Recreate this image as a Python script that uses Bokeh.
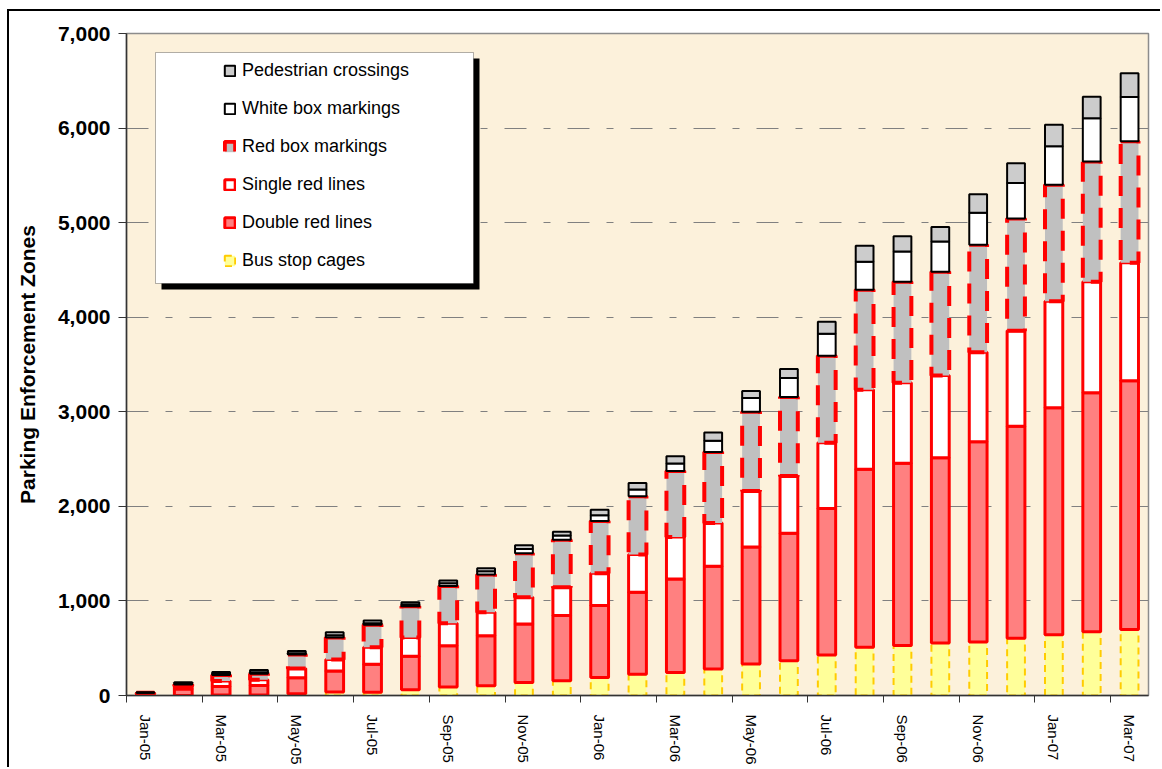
from bokeh.plotting import figure
from bokeh.models import (ColumnDataSource, Range1d, FixedTicker, NumeralTickFormatter,
                          Legend, LegendItem, BoxAnnotation)
from bokeh.transform import stack
from bokeh.embed import file_html
from bokeh.resources import INLINE

months = ["Jan-05", "Feb-05", "Mar-05", "Apr-05", "May-05", "Jun-05", "Jul-05", "Aug-05",
          "Sep-05", "Oct-05", "Nov-05", "Dec-05", "Jan-06", "Feb-06", "Mar-06", "Apr-06",
          "May-06", "Jun-06", "Jul-06", "Aug-06", "Sep-06", "Oct-06", "Nov-06", "Dec-06",
          "Jan-07", "Feb-07", "Mar-07"]

bus_stop_cages = [0, 0, 5, 5, 18, 36, 35, 60, 89, 102, 138, 155, 191, 226, 244, 279,
                  332, 367, 427, 510, 529, 556, 567, 605, 643, 673, 699]
double_red_lines = [25, 70, 90, 102, 171, 224, 296, 356, 438, 530, 618, 690, 760, 866,
                    989, 1088, 1237, 1348, 1550, 1883, 1928, 1958, 2117, 2242, 2400, 2529, 2628]
single_red_lines = [5, 30, 58, 60, 96, 121, 178, 196, 238, 248, 283, 300, 342, 399, 442,
                    456, 594, 605, 696, 840, 851, 870, 945, 1009, 1127, 1172, 1248]
red_box_markings = [0, 15, 64, 64, 149, 231, 238, 331, 392, 399, 466, 502, 552, 615, 700,
                    753, 837, 837, 919, 1058, 1066, 1096, 1137, 1189, 1232, 1273, 1285]
white_box_markings = [0, 10, 14, 15, 14, 25, 18, 18, 31, 35, 43, 46, 60, 71, 77, 117,
                      146, 200, 234, 295, 321, 320, 339, 375, 406, 458, 469]
pedestrian_crossings = [5, 15, 18, 24, 22, 32, 29, 25, 27, 31, 42, 38, 60, 70, 78, 88,
                        74, 95, 125, 169, 160, 155, 196, 209, 227, 227, 251]

y_ticks = [0, 1000, 2000, 3000, 4000, 5000, 6000, 7000]

n = len(months)
xs = [i + 0.5 for i in range(n)]

src = ColumnDataSource(dict(
    x=xs,
    bus=bus_stop_cages,
    dbl=double_red_lines,
    sgl=single_red_lines,
    rbox=red_box_markings,
    wbox=white_box_markings,
    ped=pedestrian_crossings,
))

FONT = "Liberation Sans"

# canvas starts at (9, 11) inside the page; outer chart frame drawn as CSS border
p = figure(width=1153, height=758, output_backend="svg", toolbar_location=None,
           x_range=Range1d(0, n), y_range=Range1d(0, 7000),
           min_border_left=117, min_border_right=14, min_border_top=22, min_border_bottom=74)
p.styles = {"margin-left": "7px", "margin-top": "9px",
            "border-left": "2px solid black", "border-top": "2px solid black"}
p.background_fill_color = "#FCF1DB"
p.border_fill_color = "white"
p.outline_line_color = "#8C8C8C"
p.outline_line_width = 1.5

W = 0.47
order = ["bus", "dbl", "sgl", "rbox", "wbox", "ped"]
styles = {
    "bus": dict(fill_color="#FFFF99", line_color="#FFCC00", line_width=2, line_dash="7 5"),
    "dbl": dict(fill_color="#FF8080", line_color="#FF0000", line_width=3),
    "sgl": dict(fill_color="white", line_color="#FF0000", line_width=3),
    "rbox": dict(fill_color="#C0C0C0", line_color="#FF0000", line_width=4, line_dash="20 12"),
    "wbox": dict(fill_color="white", line_color="black", line_width=2),
    "ped": dict(fill_color="#CCCCCC", line_color="black", line_width=2),
}
renderers = {}
for k, name in enumerate(order):
    below = order[:k]
    r = p.vbar(x="x", width=W, bottom=stack(*below) if below else 0,
               top=stack(*order[:k + 1]), source=src, **styles[name])
    renderers[name] = r

# axes
p.xaxis.ticker = FixedTicker(ticks=[xs[i] for i in range(0, n, 2)],
                             minor_ticks=[float(i) for i in range(0, n, 2)])
p.xaxis.major_label_overrides = {xs[i]: months[i] for i in range(0, n, 2)}
p.xaxis.major_label_orientation = "vertical"
p.xaxis.major_tick_out = 0
p.xaxis.major_tick_in = 0
p.xaxis.minor_tick_out = 7
p.xaxis.minor_tick_in = 0
p.xaxis.minor_tick_line_color = "#333333"
p.xaxis.major_label_standoff = 12
p.xaxis.major_label_text_font = FONT
p.xaxis.major_label_text_font_size = "15px"
p.xaxis.major_label_text_color = "black"
p.xaxis.axis_line_color = "#333333"
p.xaxis.axis_line_width = 1.5

p.yaxis.ticker = FixedTicker(ticks=y_ticks, minor_ticks=[])
p.yaxis.formatter = NumeralTickFormatter(format="0,0")
p.yaxis.major_tick_out = 8
p.yaxis.major_tick_in = 0
p.yaxis.major_tick_line_color = "#333333"
p.yaxis.major_label_standoff = 8
p.yaxis.major_label_text_font = FONT
p.yaxis.major_label_text_font_size = "21px"
p.yaxis.major_label_text_font_style = "bold"
p.yaxis.major_label_text_color = "black"
p.yaxis.axis_line_color = "#333333"
p.yaxis.axis_line_width = 1.5
p.yaxis.axis_label = "Parking Enforcement Zones"
p.yaxis.axis_label_text_font = FONT
p.yaxis.axis_label_text_font_size = "21px"
p.yaxis.axis_label_text_font_style = "bold"
p.yaxis.axis_label_text_color = "black"
p.yaxis.axis_label_standoff = 16

p.xgrid.visible = False
p.ygrid.ticker = FixedTicker(ticks=y_ticks)
p.ygrid.grid_line_color = "#808080"
p.ygrid.grid_line_width = 1
p.ygrid.grid_line_dash = "22 17 7 17"

# legend box with drop shadow
p.add_layout(BoxAnnotation(left=35, right=353, top=637, bottom=406,
                           left_units="screen", right_units="screen",
                           top_units="screen", bottom_units="screen",
                           fill_color="black", fill_alpha=1, line_alpha=0))
p.add_layout(BoxAnnotation(left=29, right=347, top=643, bottom=412,
                           left_units="screen", right_units="screen",
                           top_units="screen", bottom_units="screen",
                           fill_color="white", fill_alpha=1, line_color="black", line_width=1))

labels = {
    "ped": "Pedestrian crossings",
    "wbox": "White box markings",
    "rbox": "Red box markings",
    "sgl": "Single red lines",
    "dbl": "Double red lines",
    "bus": "Bus stop cages",
}
items = [LegendItem(label=labels[k], renderers=[renderers[k]])
         for k in ["ped", "wbox", "rbox", "sgl", "dbl", "bus"]]
legend = Legend(items=items, location=(89, 416),
                background_fill_alpha=0, border_line_alpha=0,
                glyph_width=13, glyph_height=13, label_height=21,
                spacing=17, padding=8, margin=0, label_standoff=6,
                label_text_font=FONT, label_text_font_size="18px",
                label_text_color="black")
p.add_layout(legend, "center")

open("out.html", "w").write(file_html(p, INLINE))
